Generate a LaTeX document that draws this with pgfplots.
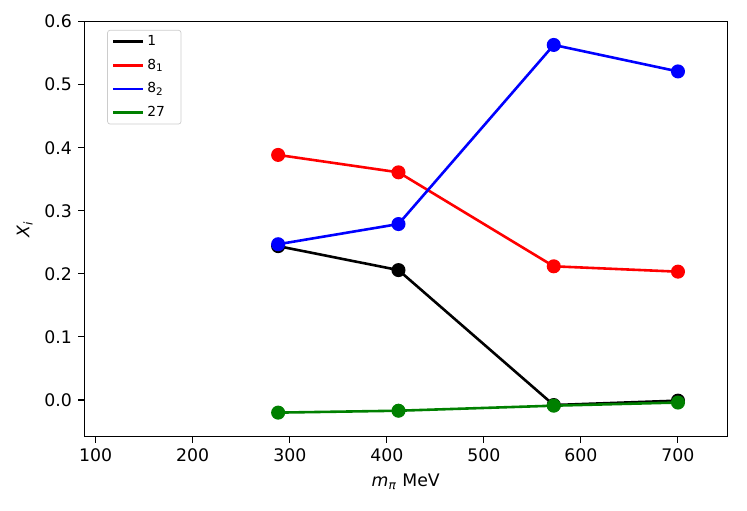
\documentclass[border=0pt]{standalone}
\usepackage{fontspec}
\setmainfont{DejaVu Sans}
\usepackage{pgfplots}
\pgfplotsset{compat=1.18}
\begin{document}
\fontsize{10pt}{12pt}\selectfont
\begin{tikzpicture}
\begin{axis}[
  name=ax,
  scale only axis,
  width=372pt, height=240pt,
  xmin=88, xmax=751,
  ymin=-0.0582, ymax=0.6,
  xtick={100,200,300,400,500,600,700},
  ytick={0,0.1,0.2,0.3,0.4,0.5,0.6},
  tick align=outside,
  major tick length=3.5pt,
  tick style={black, line width=0.6pt},
  xtick pos=bottom, ytick pos=left,
  axis line style={line width=0.6pt},
  /pgf/number format/assume math mode=true,
  yticklabel style={/pgf/number format/fixed, /pgf/number format/fixed zerofill, /pgf/number format/precision=1},
  xticklabel style={/pgf/number format/1000 sep={}},
  tick label style={font=\fontsize{10pt}{12pt}\selectfont},
  label style={font=\fontsize{10pt}{12pt}\selectfont},
  xlabel={\textit{m}\textsubscript{\textit{π}} MeV},
  ylabel={\textit{X}\textsubscript{\textit{i}}},
  legend style={at={(0.036,0.98)}, anchor=north west, draw=black!20, rounded corners=1.5pt,
    font=\fontsize{8pt}{9.6pt}\selectfont, row sep=2.2pt, inner xsep=2.5pt, inner ysep=1pt},
  legend cell align=left,
  legend image code/.code={\draw[#1, line width=1.5pt] (0pt,0pt) -- (17pt,0pt);},
  every axis plot/.append style={line width=1.5pt, mark=*, mark size=3.3pt, mark options={solid}},
]
\addplot[black, mark options={fill=black}] coordinates {(288,0.244) (412,0.206) (572,-0.008) (700,-0.001)};
\addlegendentry{\makebox[15pt][l]{1}}
\addplot[red, mark options={fill=red}] coordinates {(288,0.3886) (412,0.361) (572,0.212) (700,0.2035)};
\addlegendentry{\makebox[15pt][l]{8\textsubscript{1}}}
\addplot[blue, mark options={fill=blue}] coordinates {(288,0.247) (412,0.279) (572,0.563) (700,0.521)};
\addlegendentry{\makebox[15pt][l]{8\textsubscript{2}}}
\addplot[black!50!green, mark options={fill=black!50!green}] coordinates {(288,-0.020) (412,-0.017) (572,-0.009) (700,-0.004)};
\addlegendentry{\makebox[15pt][l]{27}}
\end{axis}
\pgfresetboundingbox
\path ([xshift=-48.6pt,yshift=-42.4pt]ax.south west) rectangle ([xshift=11.3pt,yshift=12.5pt]ax.north east);
\end{tikzpicture}
\end{document}
